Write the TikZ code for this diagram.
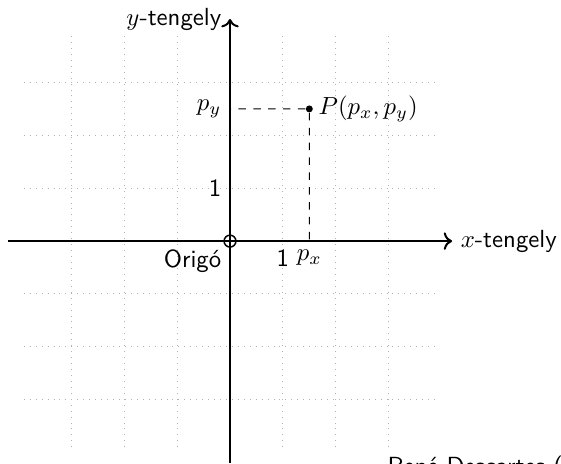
\documentclass[tikz,border=0pt]{standalone}
\usetikzlibrary{arrows.meta}
\begin{document}
\begin{tikzpicture}[scale=0.75, font=\sffamily,
  gridline/.style={gray!60, dotted, line width=0.4pt},
  axisline/.style={thick, ->},
  guideline/.style={dashed, line width=0.4pt},
  ptdot/.style={circle, fill=black, inner sep=0pt, minimum size=2.8pt},
  origmark/.style={circle, draw=black, semithick, inner sep=0pt, minimum size=4.8pt}]
\useasboundingbox (-4.35,-4.2) rectangle (6.26,4.56);
\draw[gridline, step=1] (-3.9,-3.9) grid (3.9,3.9);
\coordinate (xl) at (-4.2,0);
\coordinate (xr) at (4.2,0);
\coordinate (yb) at (0,-4.2);
\coordinate (yt) at (0,4.2);
\coordinate (pxa) at (1.5,0);
\coordinate (pya) at (0,2.5);
\draw[axisline] (xl) -- (xr);
\draw[axisline] (yb) -- (yt);
\node[right] (xlab) at (xr) {$x$-tengely};
\node[left] (ylab) at (yt) {$y$-tengely};
\node[origmark] (O) at (0,0) {};
\node[ptdot] (P) at (1.5,2.5) {};
\draw[guideline] (P) -- (pxa);
\draw[guideline] (P) -- (pya);
\node[right, inner sep=2pt] (Plab) at (P.east) {$P(p_x,p_y)$};
\node[below] (xone) at (1,0) {1};
\node[below] (pxlab) at (pxa) {$p_x$};
\node[left] (yone) at (0,1) {1};
\node[left] (pylab) at (pya) {$p_y$};
\node[below left] (olab) at (0,0) {Origó};
\node[anchor=north west, inner sep=0pt] (rene) at (2.97,-4.05) {René Descartes (1596--1650)};
\end{tikzpicture}
\end{document}
